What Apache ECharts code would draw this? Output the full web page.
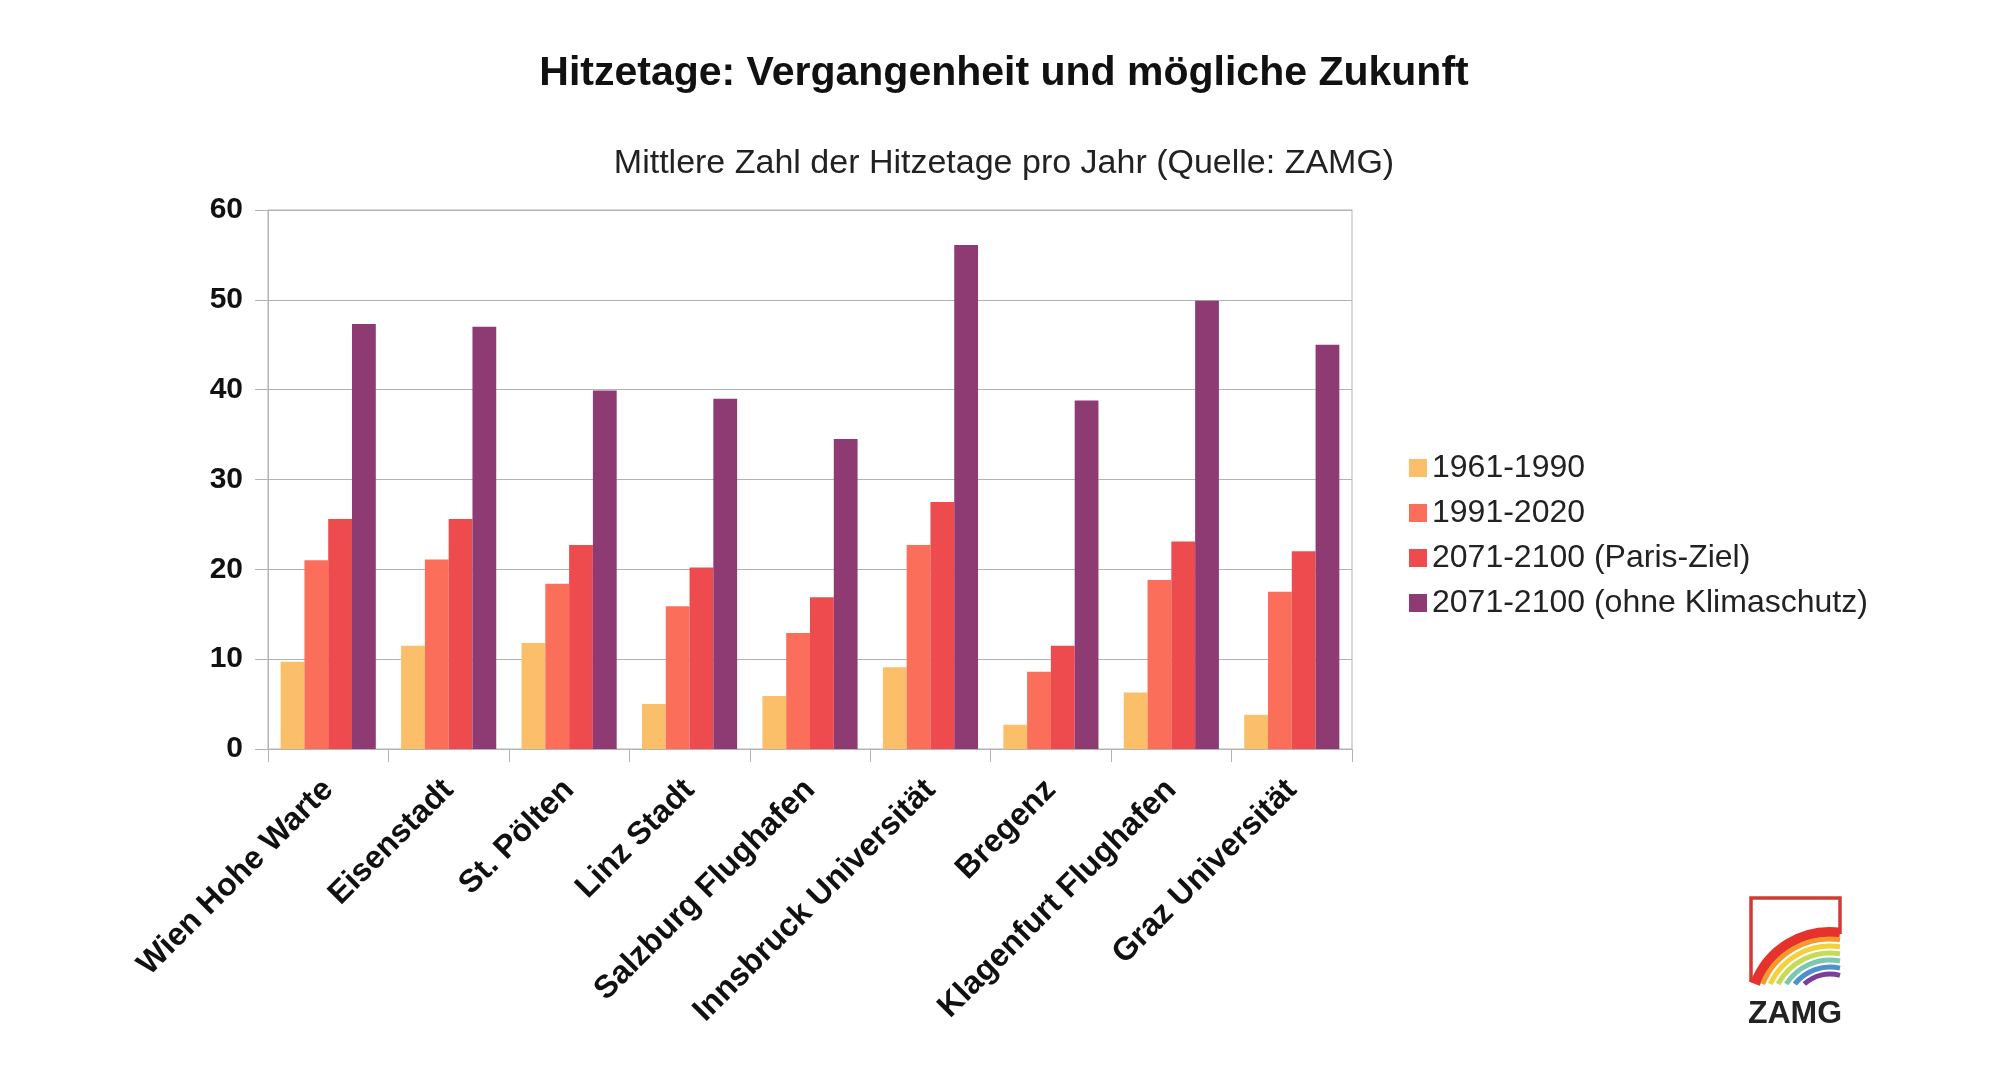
<!DOCTYPE html>
<html>
<head>
<meta charset="utf-8">
<script src="https://cdn.jsdelivr.net/npm/echarts@6/dist/echarts.min.js"></script>
<style>html,body{margin:0;padding:0;background:#fff;}#c{width:2000px;height:1067px;}</style>
</head>
<body>
<div id="c"></div>
<script>
var categories = ['Wien Hohe Warte','Eisenstadt','St. Pölten','Linz Stadt','Salzburg Flughafen','Innsbruck Universität','Bregenz','Klagenfurt Flughafen','Graz Universität'];
var seriesNames = ['1961-1990','1991-2020','2071-2100 (Paris-Ziel)','2071-2100 (ohne Klimaschutz)'];
var v1961 = [9.7, 11.5, 11.8, 5.0, 5.9, 9.1, 2.7, 6.3, 3.8];
var v1991 = [21.0, 21.1, 18.4, 15.9, 12.9, 22.7, 8.6, 18.8, 17.5];
var vParis = [25.6, 25.6, 22.7, 20.2, 16.9, 27.5, 11.5, 23.1, 22.0];
var vOhne = [47.3, 47.0, 39.9, 39.0, 34.5, 56.1, 38.8, 49.9, 45.0];
var yTicks = [0, 10, 20, 30, 40, 50, 60];
var colors = ['#FBBF6A', '#FA6E5A', '#EE4B4F', '#8E3B74'];

var font = '"Liberation Sans", Arial, sans-serif';
var chart = echarts.init(document.getElementById('c'), null, {renderer: 'canvas'});

// Logo (decoration only)
var lcx = 1830, lcy = 1012, baseY = 984, clipX = 1840;
var rainbow = [
  {r: 80, w: 10, c: '#E5322D'},
  {r: 73, w: 5, c: '#F39A2B'},
  {r: 66, w: 5, c: '#F4D03A'},
  {r: 59, w: 5, c: '#C5DB55'},
  {r: 52, w: 5, c: '#7CC7B0'},
  {r: 45, w: 5, c: '#4F8FD0'},
  {r: 38, w: 5, c: '#7A3F98'}
];
var logoEls = [{
  type: 'polyline',
  shape: {points: [[1751, 982], [1751, 898], [1840, 898], [1840, 934]]},
  style: {stroke: '#D23A36', lineWidth: 3.5, fill: null}
}];
rainbow.forEach(function (a) {
  var dy = lcy - baseY;
  var sa = Math.PI + Math.asin(Math.min(1, dy / a.r));
  var ea = 2 * Math.PI - Math.acos(Math.min(1, (clipX - lcx) / a.r));
  logoEls.push({
    type: 'arc',
    shape: {cx: lcx, cy: lcy, r: a.r, startAngle: sa, endAngle: ea, clockwise: true},
    style: {stroke: a.c, lineWidth: a.w, fill: null}
  });
});
logoEls.push({
  type: 'text',
  style: {text: 'ZAMG', x: 1795, y: 1014, align: 'center', verticalAlign: 'middle',
          font: 'bold 32px ' + font, fill: '#222'}
});

var dataArrays = [v1961, v1991, vParis, vOhne];
var series = seriesNames.map(function (n, i) {
  return {
    name: n, type: 'bar', data: dataArrays[i],
    barGap: '0%', barCategoryGap: '21%',
    itemStyle: {color: colors[i]},
    emphasis: {disabled: true}
  };
});

chart.setOption({
  animation: false,
  backgroundColor: '#fff',
  color: colors,
  title: [{
    text: 'Hitzetage: Vergangenheit und mögliche Zukunft',
    left: 999, top: 48, textAlign: 'center',
    textStyle: {fontFamily: font, fontWeight: 'bold', fontSize: 41, color: '#111'}
  }, {
    text: 'Mittlere Zahl der Hitzetage pro Jahr (Quelle: ZAMG)',
    left: 999, top: 142, textAlign: 'center',
    textStyle: {fontFamily: font, fontWeight: 'normal', fontSize: 34, color: '#222'}
  }],
  legend: {
    orient: 'vertical', left: 1404, top: 447,
    itemWidth: 18, itemHeight: 18, itemGap: 13,
    icon: 'rect',
    textStyle: {fontFamily: font, fontSize: 32, color: '#222'},
    data: seriesNames
  },
  grid: {
    left: 268, right: 648, top: 210, bottom: 318,
    show: true, borderColor: '#b3b3b3', borderWidth: 1, backgroundColor: 'transparent'
  },
  xAxis: {
    type: 'category', data: categories,
    axisLine: {lineStyle: {color: '#b3b3b3', width: 1}},
    axisTick: {show: true, length: 13, alignWithLabel: false, lineStyle: {color: '#b3b3b3'}},
    axisLabel: {rotate: 45, interval: 0, margin: 36, fontFamily: font, fontWeight: 'bold', fontSize: 32, color: '#111'}
  },
  yAxis: {
    type: 'value', min: 0, max: 60, interval: 10,
    axisLine: {show: true, lineStyle: {color: '#b3b3b3', width: 1}},
    axisTick: {show: true, length: 13, lineStyle: {color: '#b3b3b3'}},
    splitLine: {lineStyle: {color: '#b3b3b3', width: 1}},
    axisLabel: {margin: 25, fontFamily: font, fontWeight: 'bold', fontSize: 30, color: '#111',
      formatter: function (v) { return yTicks.indexOf(v) >= 0 ? String(v) : ''; }}
  },
  graphic: logoEls,
  series: series
});
</script>
</body>
</html>
